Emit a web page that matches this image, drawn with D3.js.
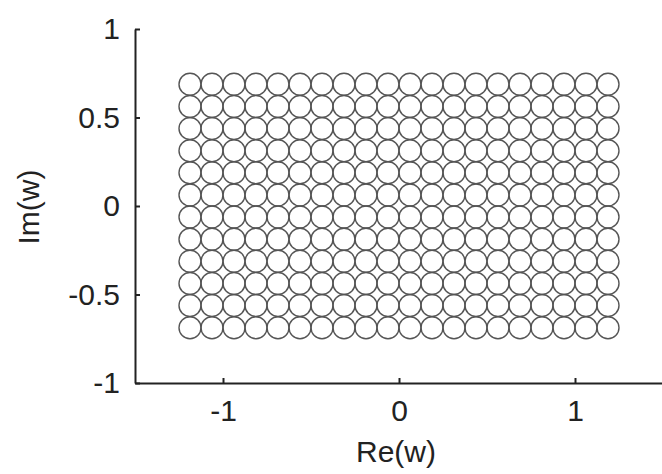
<!DOCTYPE html>
<html lang="en">
<head>
<meta charset="UTF-8">
<title>w grid</title>
<script src="https://cdn.jsdelivr.net/npm/d3@7"></script>
<style>
  body { margin: 0; background: #fff; }
  text { font-family: "Liberation Sans", Arial, sans-serif; fill: #222; }
  .axis path, .axis line { stroke: #222; stroke-width: 2; }
  .axis text { font-size: 30px; fill: #222; }
</style>
</head>
<body>
<div id="chart"></div>
<script>
// grid points of w
var reValues = [-1.1875, -1.0625, -0.9375, -0.8125, -0.6875, -0.5625, -0.4375, -0.3125, -0.1875, -0.0625,
                0.0625, 0.1875, 0.3125, 0.4375, 0.5625, 0.6875, 0.8125, 0.9375, 1.0625, 1.1875];
var imValues = [-0.6875, -0.5625, -0.4375, -0.3125, -0.1875, -0.0625,
                0.0625, 0.1875, 0.3125, 0.4375, 0.5625, 0.6875];
var xTicks = [-1, 0, 1];
var yTicks = [-1, -0.5, 0, 0.5, 1];

var width = 662, height = 474;

var svg = d3.select('#chart')
    .append('svg')
    .attr('width', width)
    .attr('height', height);

var xScale = d3.scaleLinear().domain([-1.5, 1.5]).range([135, 663]);
var yScale = d3.scaleLinear().domain([-1, 1]).range([383, 29]);

var points = [];
imValues.forEach(function(im) {
    reValues.forEach(function(re) {
        points.push({re: re, im: im});
    });
});

svg.selectAll('.dot')
    .data(points)
    .enter()
    .append('circle')
    .attr('class', 'dot')
    .attr('cx', function(d) { return xScale(d.re); })
    .attr('cy', function(d) { return yScale(d.im); })
    .attr('r', 11)
    .attr('fill', 'none')
    .attr('stroke', '#555')
    .attr('stroke-width', 1.4);

var xAxis = d3.axisBottom(xScale).tickValues(xTicks).tickSizeInner(-5).tickSizeOuter(0).tickPadding(17)
    .tickFormat(d3.format('~g'));
var yAxis = d3.axisLeft(yScale).tickValues(yTicks).tickSizeInner(-5).tickSizeOuter(0).tickPadding(15)
    .tickFormat(d3.format('~g'));

svg.append('g')
    .attr('class', 'axis')
    .attr('transform', 'translate(0,' + yScale(-1) + ')')
    .call(xAxis);

svg.append('g')
    .attr('class', 'axis')
    .attr('transform', 'translate(' + xScale(-1.5) + ',0)')
    .call(yAxis);

// d3 uses a unicode minus; keep the plain hyphen like the original
svg.selectAll('.axis text').text(function(d) { return String(d); });

svg.append('text')
    .attr('x', 396)
    .attr('y', 462)
    .attr('text-anchor', 'middle')
    .style('font-size', '30px')
    .text('Re(w)');

svg.append('text')
    .attr('transform', 'translate(39,207) rotate(-90)')
    .attr('text-anchor', 'middle')
    .style('font-size', '30px')
    .text('Im(w)');
</script>
</body>
</html>
